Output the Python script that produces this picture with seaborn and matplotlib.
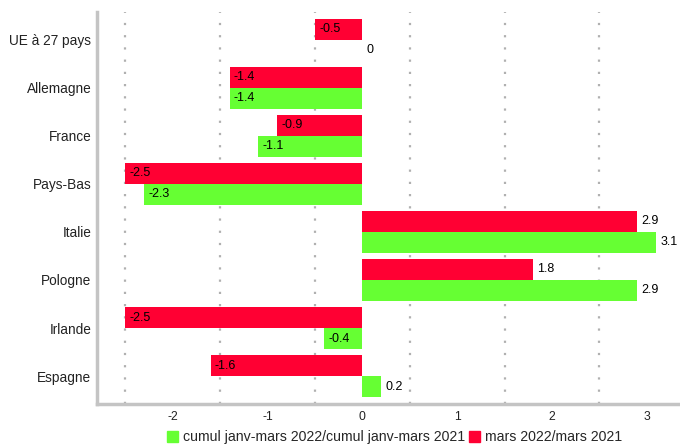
import pandas as pd
import matplotlib.pyplot as plt
import seaborn as sns
import numpy as np
from matplotlib.patches import Patch
from matplotlib.ticker import MultipleLocator

pays = ["UE à 27 pays", "Allemagne", "France", "Pays-Bas", "Italie", "Pologne", "Irlande", "Espagne"]
mars = [-0.5, -1.4, -0.9, -2.5, 2.9, 1.8, -2.5, -1.6]
cumul = [0.0, -1.4, -1.1, -2.3, 3.1, 2.9, -0.4, 0.2]
serie_mars = "mars 2022/mars 2021"
serie_cumul = "cumul janv-mars 2022/cumul janv-mars 2021"

df = pd.DataFrame({
    "Pays": pays * 2,
    "Valeur": mars + cumul,
    "Serie": [serie_mars] * len(pays) + [serie_cumul] * len(pays),
})

sns.set_style("white")
plt.rcParams['font.family'] = ['Liberation Sans', 'DejaVu Sans']
plt.rcParams['axes.unicode_minus'] = False

colors = {serie_mars: "#ff0033", serie_cumul: "#66ff33"}

fig = plt.figure(figsize=(6.8, 4.47), dpi=100)
ax = fig.add_axes([0.1426, 0.0962, 0.8574, 0.877])

sns.barplot(data=df, y="Pays", x="Valeur", hue="Serie", order=pays,
            hue_order=[serie_mars, serie_cumul], palette=colors, saturation=1,
            orient="h", width=0.875, linewidth=0,
            legend=False, ax=ax, zorder=3)

# value labels just right of each bar end (left end for negatives)
for cont in ax.containers:
    for bar in cont:
        w = bar.get_width()
        x_end = bar.get_x() + w
        y = bar.get_y() + bar.get_height() / 2
        ax.annotate(f"{w:g}" if w != 0 else "0", (x_end, y),
                    xytext=(3, 0), textcoords="offset points",
                    ha="left", va="center", fontsize=9, color="black", zorder=4)

ax.set_xlim(-2.8, 3.35)
ax.set_ylim(7.583, -0.583)
ax.xaxis.set_major_locator(MultipleLocator(1))
ax.xaxis.set_minor_locator(MultipleLocator(1, offset=0.5))
ax.grid(axis="x", which="minor", color="#b0b0b0", linestyle=(0, (1, 4.5)), linewidth=1.6, zorder=0)
ax.grid(axis="x", which="major", visible=False)
ax.grid(axis="y", visible=False)
ax.set_axisbelow(True)

for s in ["top", "right"]:
    ax.spines[s].set_visible(False)
for s in ["left", "bottom"]:
    ax.spines[s].set_color("#c4c4c4")
    ax.spines[s].set_linewidth(2.5)

ax.tick_params(axis="y", which="major", length=2, pad=2, color="#999999", labelsize=9.8, labelcolor="#222222")
ax.tick_params(axis="x", which="major", length=3, pad=2, color="#999999", labelsize=8.7, labelcolor="#222222")
ax.tick_params(axis="x", which="minor", length=0)
ax.set_xlabel("")
ax.set_ylabel("")

handles = [Patch(color=colors[serie_cumul], label=serie_cumul),
           Patch(color=colors[serie_mars], label=serie_mars)]
fig.legend(handles=handles, loc="lower center", bbox_to_anchor=(0.58, -0.022), ncol=2,
           frameon=False, fontsize=10.2, handlelength=0.8, handleheight=0.8,
           handletextpad=0.3, columnspacing=0.3)

fig.savefig("out.png", dpi=100)
